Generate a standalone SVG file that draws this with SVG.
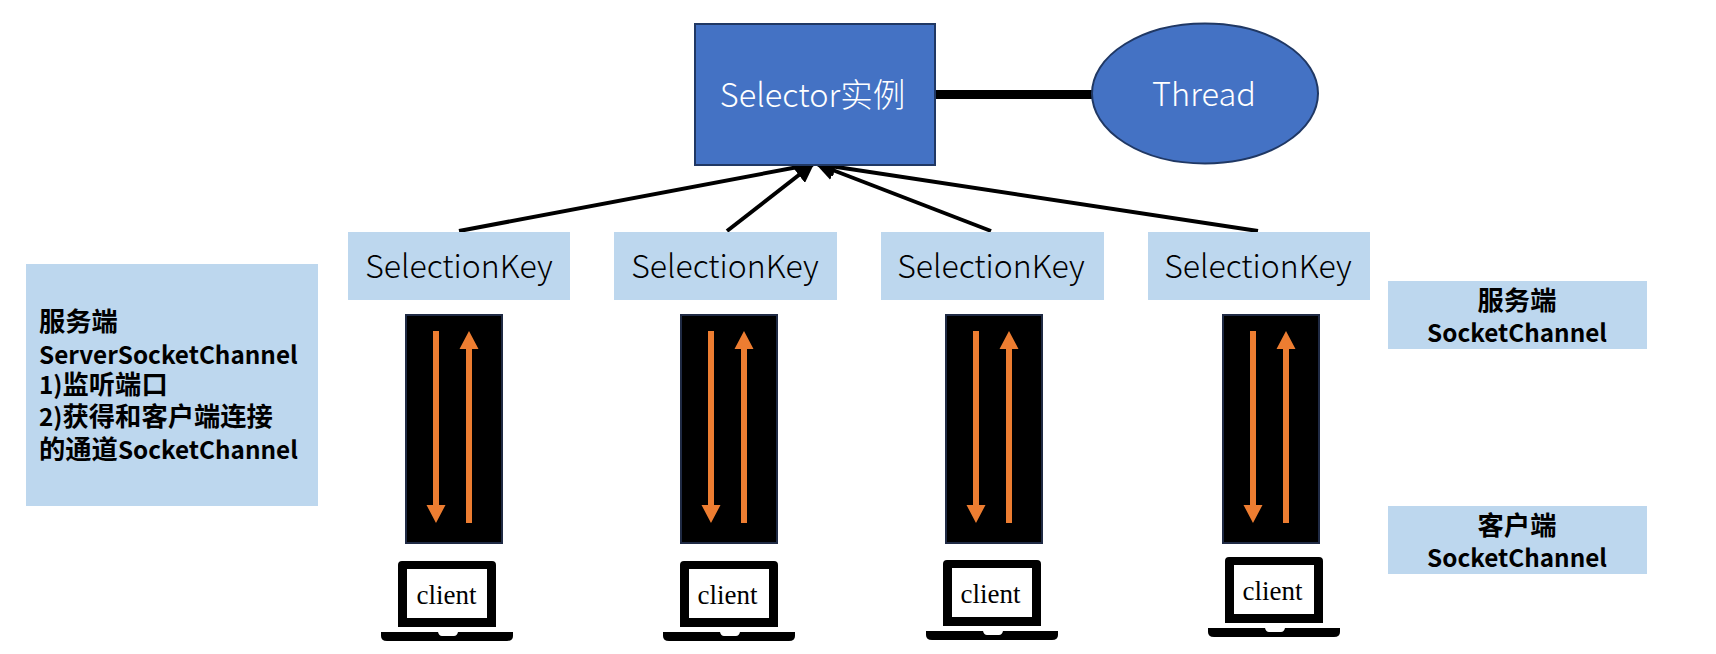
<svg xmlns="http://www.w3.org/2000/svg" width="1716" height="654" viewBox="0 0 1716 654">
<style>
text{font-family:"Noto Sans CJK SC","Noto Sans",sans-serif}
.blue{fill:#4472c4;stroke:#203864;stroke-width:2}
.light{fill:#bdd7ee}
.w{fill:#fff;font-size:32.500px;font-weight:300;text-anchor:middle}
.k{fill:#000;font-size:32px;font-weight:300;text-anchor:middle}
.b{fill:#000;font-size:24.300px;font-weight:700}
.z{font-size:26.300px}
.m{text-anchor:middle}
.c{font-family:"Liberation Serif",serif;font-size:27px;fill:#000;text-anchor:middle}
.pipe{fill:#000;stroke:#1f2a44;stroke-width:2}
.o{fill:#ed7d31}
.a{stroke:#000;stroke-width:4;fill:none}
</style>
<defs>
<marker id="tip" viewBox="0 0 10 10" refX="9" refY="5" markerWidth="5" markerHeight="5" orient="auto"><path d="M0 0L10 5L0 10Z" fill="#000"/></marker>
<g id="pipes">
<rect class="pipe" x="1" y="1" width="96" height="228"/>
<path class="o" d="M28 17h6v174h6.500l-9.500 18l-9.500-18h6.500z"/>
<path class="o" d="M61 209v-174h-6.500l9.500-18l9.500 18h-6.500v174z"/>
</g>
<g id="laptop">
<path fill="#000" fill-rule="evenodd" d="M4 0h90q4 0 4 4v62H0V4q0-4 4-4zM9 8v49h80V8z"/>
<rect fill="#fff" x="9" y="8" width="80" height="49"/>
<path fill="#000" d="M-17 71h57q1 4 4 4h12q3 0 4-4h55v4q0 5-6 5H-11q-6 0-6-5z"/>
</g>
</defs>
<g id="connectors">
<line x1="935" y1="94.500" x2="1092" y2="94.500" stroke="#000" stroke-width="9"/>
<line class="a" x1="459" y1="231" x2="814" y2="164" marker-end="url(#tip)"/>
<line class="a" x1="727" y1="231" x2="813" y2="164" marker-end="url(#tip)"/>
<line class="a" x1="991" y1="231" x2="817" y2="164" marker-end="url(#tip)"/>
<line class="a" x1="1258" y1="231" x2="817" y2="164" marker-end="url(#tip)"/>
</g>
<g id="selector"><rect class="blue" x="695" y="24" width="240" height="141"/><text class="w" x="812.500" y="107">Selector实例</text></g>
<g id="thread"><ellipse class="blue" cx="1205" cy="93.500" rx="113" ry="70"/><text class="w" x="1204" y="106">Thread</text></g>
<g id="key1"><rect class="light" x="348" y="232" width="222" height="68"/><text class="k" x="459" y="278">SelectionKey</text></g>
<g id="key2"><rect class="light" x="614" y="232" width="223" height="68"/><text class="k" x="725" y="278">SelectionKey</text></g>
<g id="key3"><rect class="light" x="881" y="232" width="223" height="68"/><text class="k" x="991" y="278">SelectionKey</text></g>
<g id="key4"><rect class="light" x="1148" y="232" width="222" height="68"/><text class="k" x="1258" y="278">SelectionKey</text></g>
<g id="channel1"><use href="#pipes" x="405" y="314"/></g>
<g id="channel2"><use href="#pipes" x="680" y="314"/></g>
<g id="channel3"><use href="#pipes" x="945" y="314"/></g>
<g id="channel4"><use href="#pipes" x="1222" y="314"/></g>
<g id="client1"><use href="#laptop" x="398" y="561"/><text class="c" x="446.500" y="604">client</text></g>
<g id="client2"><use href="#laptop" x="680" y="561"/><text class="c" x="727.500" y="604">client</text></g>
<g id="client3"><use href="#laptop" x="943" y="560"/><text class="c" x="990.500" y="603">client</text></g>
<g id="client4"><use href="#laptop" x="1225" y="557"/><text class="c" x="1272.500" y="600">client</text></g>
<g id="server-note"><rect class="light" x="26" y="264" width="292" height="242"/>
<text class="b z" x="39" y="331">服务端</text>
<text class="b" x="39" y="364">ServerSocketChannel</text>
<text class="b" x="39" y="394">1)<tspan class="z">监听端口</tspan></text>
<text class="b" x="39" y="426">2)<tspan class="z">获得和客户端连接</tspan></text>
<text class="b" x="39" y="459"><tspan class="z">的通道</tspan>SocketChannel</text></g>
<g id="server-channel"><rect class="light" x="1388" y="281" width="259" height="68"/><text class="b z m" x="1517" y="310">服务端</text><text class="b m" x="1517" y="342">SocketChannel</text></g>
<g id="client-channel"><rect class="light" x="1388" y="506" width="259" height="68"/><text class="b z m" x="1517" y="535">客户端</text><text class="b m" x="1517" y="567">SocketChannel</text></g>
</svg>
